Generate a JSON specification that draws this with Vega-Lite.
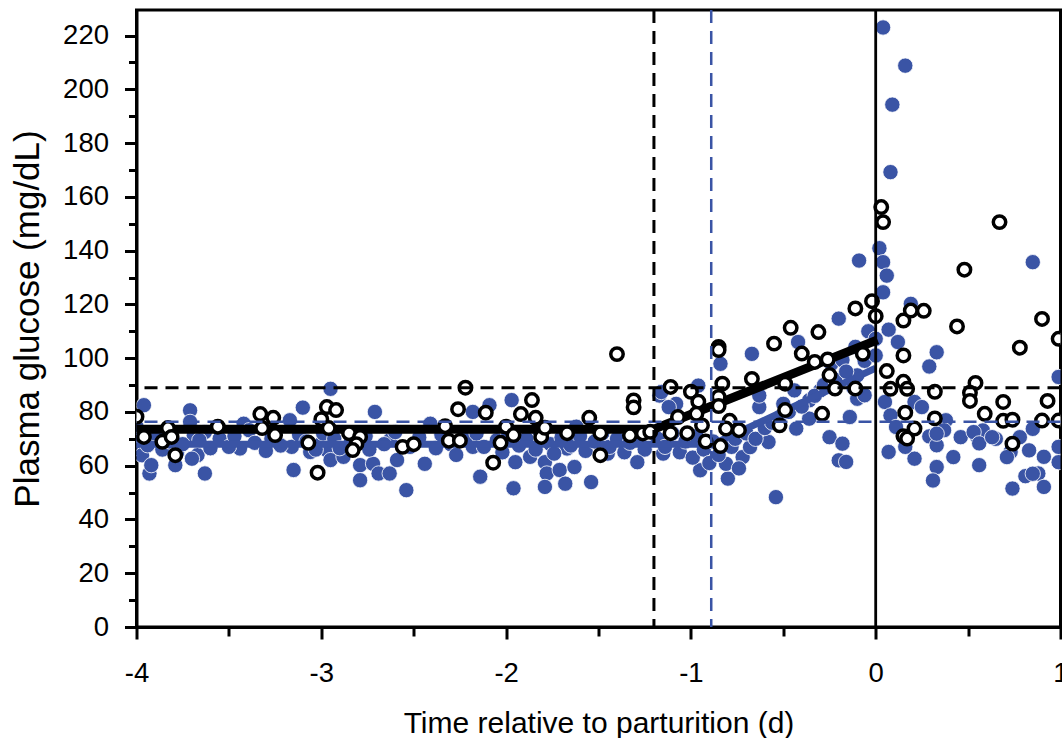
{
"$schema": "https://vega.github.io/schema/vega-lite/v6.json",
"width": 924, "height": 617,
"autosize": {"type": "none"},
"padding": {"left": 136.5, "top": 10, "right": 1.5, "bottom": 111},
"background": "white",
"config": {
 "view": {"stroke": "black", "strokeWidth": 3},
 "font": "Liberation Sans",
 "axis": {"domainColor": "black", "domainWidth": 3, "tickColor": "black", "tickWidth": 3, "labelColor": "black", "titleColor": "black", "labelFont": "Liberation Sans", "titleFont": "Liberation Sans", "labelFontSize": 27.5, "titleFontSize": 30, "titleFontWeight": "normal", "grid": false}
},
"datasets": {
 "blue": [
  {"t":-3.96,"g":82.5},{"t":-4.0,"g":74.5},{"t":-3.99,"g":66.4},{"t":-3.97,"g":63.9},{"t":-3.93,"g":57.1},{"t":-3.92,"g":60.2},{"t":-3.94,"g":67.6},{"t":-3.79,"g":60.2},{"t":-3.78,"g":65.1},{"t":-3.71,"g":80.6},{"t":-3.71,"g":76.3},{"t":-3.69,"g":71.3},{"t":-3.67,"g":63.9},{"t":-3.70,"g":62.6},{"t":-3.63,"g":57.1},{"t":-3.63,"g":72.5},{"t":-3.44,"g":66.4},{"t":-3.42,"g":75.6},{"t":-3.39,"g":73.2},{"t":-3.17,"g":76.9},{"t":-3.16,"g":67.0},{"t":-3.15,"g":58.4},{"t":-3.10,"g":81.6},{"t":-3.06,"g":65.1},{"t":-3.00,"g":68.2},{"t":-2.95,"g":88.6},{"t":-2.97,"g":65.8},{"t":-2.95,"g":62.1},{"t":-2.88,"g":63.3},{"t":-2.79,"g":60.2},{"t":-2.79,"g":54.6},{"t":-2.71,"g":80.0},{"t":-2.72,"g":60.7},{"t":-2.69,"g":57.1},{"t":-2.63,"g":57.1},{"t":-2.63,"g":69.4},{"t":-2.59,"g":62.1},{"t":-2.54,"g":50.9},{"t":-2.44,"g":60.7},{"t":-2.41,"g":75.6},{"t":-2.18,"g":80.0},{"t":-2.14,"g":55.9},{"t":-2.09,"g":82.5},{"t":-2.18,"g":67.0},{"t":-1.97,"g":84.4},{"t":-1.96,"g":51.6},{"t":-1.95,"g":61.3},{"t":-1.87,"g":63.3},{"t":-1.79,"g":61.3},{"t":-1.78,"g":57.1},{"t":-1.79,"g":52.1},{"t":-1.71,"g":58.4},{"t":-1.68,"g":53.3},{"t":-1.63,"g":59.5},{"t":-1.54,"g":53.9},{"t":-1.45,"g":64.5},{"t":-1.67,"g":66.4},{"t":-1.91,"g":71.4},{"t":-1.62,"g":74.5},
  {"t":-3.97,"g":70.5},{"t":-3.90,"g":72},{"t":-3.86,"g":66},{"t":-3.82,"g":69},{"t":-3.75,"g":68},{"t":-3.66,"g":69.5},{"t":-3.60,"g":66.5},{"t":-3.55,"g":70},{"t":-3.50,"g":67},{"t":-3.47,"g":71},{"t":-3.36,"g":68.5},{"t":-3.30,"g":65.5},{"t":-3.27,"g":70},{"t":-3.22,"g":67.5},{"t":-3.12,"g":71.5},{"t":-3.08,"g":69},{"t":-3.03,"g":66},{"t":-2.99,"g":72},{"t":-2.93,"g":70},{"t":-2.90,"g":66.5},{"t":-2.84,"g":69},{"t":-2.76,"g":71},{"t":-2.74,"g":66},{"t":-2.66,"g":68},{"t":-2.60,"g":72.5},{"t":-2.52,"g":67},{"t":-2.47,"g":70.5},{"t":-2.38,"g":66.5},{"t":-2.35,"g":71.5},{"t":-2.30,"g":68},{"t":-2.27,"g":64},{"t":-2.22,"g":70},{"t":-2.16,"g":72},{"t":-2.12,"g":67},{"t":-2.05,"g":69.5},{"t":-2.02,"g":65},{"t":-1.99,"g":72.5},{"t":-1.93,"g":67.5},{"t":-1.89,"g":70},{"t":-1.84,"g":66},{"t":-1.82,"g":73},{"t":-1.76,"g":68},{"t":-1.74,"g":64.5},{"t":-1.70,"g":70.5},{"t":-1.65,"g":67.5},{"t":-1.60,"g":71},{"t":-1.57,"g":65.5},{"t":-1.52,"g":69},{"t":-1.48,"g":72},{"t":-1.44,"g":67},{"t":-1.40,"g":70},{"t":-1.36,"g":65},{"t":-1.33,"g":68.5},{"t":-1.28,"g":71},{"t":-1.25,"g":66},
  {"t":-1.29,"g":61.3},{"t":-1.17,"g":86.1},{"t":-1.08,"g":83.0},{"t":-0.96,"g":89.8},{"t":-1.12,"g":81.8},{"t":-1.15,"g":64.5},{"t":-0.95,"g":58.3},{"t":-0.80,"g":55.2},{"t":-0.81,"g":60.7},{"t":-0.72,"g":63.2},{"t":-0.68,"g":66.9},{"t":-0.58,"g":68.8},{"t":-0.63,"g":81.8},{"t":-0.44,"g":88.0},{"t":-0.43,"g":73.8},{"t":-0.36,"g":77.5},{"t":-0.25,"g":70.6},{"t":-0.18,"g":68.2},{"t":-0.20,"g":62.0},{"t":-0.16,"g":61.4},{"t":-0.54,"g":48.3},{"t":-0.14,"g":78.1},{"t":-0.10,"g":84.9},{"t":-0.30,"g":88.0},{"t":-0.24,"g":97.9},{"t":-0.36,"g":84.3},{"t":-0.63,"g":86.1},{"t":-0.50,"g":83.0},{"t":-0.67,"g":101.6},{"t":-0.84,"g":97.9},{"t":-0.42,"g":106},{"t":-0.20,"g":114.7},{"t":-0.11,"g":104.2},{"t":-0.18,"g":99.3},{"t":-0.10,"g":93.6},{"t":-1.16,"g":87.4},{"t":-0.09,"g":136.3},{"t":-0.06,"g":86.2},
  {"t":-1.18,"g":70},{"t":-1.14,"g":67},{"t":-1.10,"g":72},{"t":-1.06,"g":65},{"t":-1.03,"g":69},{"t":-0.99,"g":63},{"t":-0.97,"g":71},{"t":-0.93,"g":66},{"t":-0.90,"g":61},{"t":-0.88,"g":69},{"t":-0.85,"g":64},{"t":-0.78,"g":67},{"t":-0.76,"g":70},{"t":-0.74,"g":59},{"t":-0.70,"g":72},{"t":-0.65,"g":70},{"t":-0.60,"g":74},{"t":-0.56,"g":76},{"t":-0.52,"g":78},{"t":-0.47,"g":80},{"t":-0.40,"g":82},{"t":-0.33,"g":86},{"t":-0.28,"g":90},{"t":-0.22,"g":92},{"t":-0.16,"g":95},{"t":-0.12,"g":89},{"t":-0.06,"g":99},{"t":-0.04,"g":110},
  {"t":0.04,"g":223},{"t":0.16,"g":208.8},{"t":0.09,"g":194.3},{"t":0.08,"g":169.2},{"t":0.02,"g":140.9},{"t":0.04,"g":135.7},{"t":0.06,"g":130.7},{"t":0.04,"g":124.5},{"t":0.85,"g":135.7},{"t":0.19,"g":120.2},{"t":0.07,"g":110.6},{"t":0.12,"g":106},{"t":0.00,"g":107.2},{"t":0.33,"g":102.2},{"t":0.29,"g":96.9},{"t":0.00,"g":101},{"t":0.05,"g":83.7},{"t":0.08,"g":78.7},{"t":0.11,"g":74.4},{"t":0.21,"g":83.7},{"t":0.25,"g":81.8},{"t":0.29,"g":70.9},{"t":0.33,"g":67.6},{"t":0.38,"g":76.9},{"t":0.37,"g":73.2},{"t":0.46,"g":70.6},{"t":0.42,"g":63.2},{"t":0.33,"g":59.5},{"t":0.31,"g":54.5},{"t":0.21,"g":62.6},{"t":0.07,"g":65.1},{"t":0.16,"g":67},{"t":0.55,"g":70.6},{"t":0.58,"g":73.1},{"t":0.56,"g":60.2},{"t":0.65,"g":70},{"t":0.73,"g":65.1},{"t":0.78,"g":70.6},{"t":0.83,"g":65.7},{"t":0.85,"g":73.7},{"t":0.74,"g":51.5},{"t":0.81,"g":56.1},{"t":0.88,"g":57.1},{"t":0.91,"g":63.3},{"t":0.91,"g":52.1},{"t":0.99,"g":93},{"t":0.99,"g":61.3},{"t":0.99,"g":67},{"t":0.33,"g":71.9},{"t":0.53,"g":72.5},{"t":0.56,"g":68.3},{"t":0.63,"g":70.6},{"t":0.71,"g":63.2},{"t":0.85,"g":57},{"t":0.17,"g":70.6}
 ],
 "open": [
  {"t":-4.00,"g":78.2},{"t":-3.96,"g":70.7},{"t":-3.86,"g":68.9},{"t":-3.83,"g":74.0},{"t":-3.81,"g":70.7},{"t":-3.79,"g":63.9},{"t":-3.56,"g":74.5},{"t":-3.33,"g":79.2},{"t":-3.32,"g":74.0},{"t":-3.26,"g":77.8},{"t":-3.25,"g":71.4},{"t":-3.07,"g":68.5},{"t":-3.02,"g":57.4},{"t":-3.00,"g":77.3},{"t":-2.97,"g":81.8},{"t":-2.92,"g":80.7},{"t":-2.96,"g":74.0},{"t":-2.85,"g":72.1},{"t":-2.79,"g":70.7},{"t":-2.81,"g":68.0},{"t":-2.83,"g":65.8},{"t":-2.56,"g":67.0},{"t":-2.50,"g":68.0},{"t":-2.33,"g":74.7},{"t":-2.31,"g":69.3},{"t":-2.25,"g":69.3},{"t":-2.26,"g":81.0},{"t":-2.22,"g":89.0},{"t":-2.11,"g":79.7},{"t":-2.03,"g":68.5},{"t":-2.07,"g":61.1},{"t":-2.00,"g":74.5},{"t":-1.96,"g":71.4},{"t":-1.92,"g":79.2},{"t":-1.86,"g":84.4},{"t":-1.84,"g":77.8},{"t":-1.81,"g":70.7},{"t":-1.79,"g":74.1},{"t":-1.67,"g":72.1},{"t":-1.55,"g":77.8},{"t":-1.49,"g":72.1},{"t":-1.49,"g":63.9},{"t":-1.40,"g":101.5},{"t":-1.31,"g":84.3},{"t":-1.31,"g":81.7},{"t":-1.33,"g":71.3},{"t":-1.26,"g":72.0},{"t":-1.22,"g":72.6},
  {"t":-1.11,"g":89.3},{"t":-1.11,"g":72.1},{"t":-1.07,"g":78.1},{"t":-1.02,"g":72.1},{"t":-1.00,"g":87.5},{"t":-0.96,"g":83.8},{"t":-0.97,"g":79.3},{"t":-0.94,"g":75.0},{"t":-0.92,"g":69.0},{"t":-0.85,"g":104.2},{"t":-0.85,"g":103.0},{"t":-0.83,"g":90.5},{"t":-0.85,"g":85.6},{"t":-0.85,"g":82.2},{"t":-0.84,"g":67.3},{"t":-0.79,"g":76.7},{"t":-0.81,"g":73.8},{"t":-0.74,"g":73.2},{"t":-0.67,"g":92.3},{"t":-0.55,"g":105.4},{"t":-0.52,"g":75.0},{"t":-0.49,"g":80.7},{"t":-0.49,"g":90.5},{"t":-0.46,"g":111.3},{"t":-0.40,"g":101.7},{"t":-0.31,"g":109.7},{"t":-0.33,"g":98.6},{"t":-0.26,"g":99.5},{"t":-0.29,"g":79.3},{"t":-0.25,"g":93.7},{"t":-0.22,"g":88.7},{"t":-0.11,"g":88.7},{"t":-0.11,"g":118.5},
  {"t":0.03,"g":156.2},{"t":0.04,"g":150.6},{"t":-0.02,"g":121.2},{"t":0.00,"g":115.6},{"t":-0.07,"g":101.6},{"t":0.06,"g":95.2},{"t":0.08,"g":88.6},{"t":0.15,"g":101.0},{"t":0.15,"g":114.0},{"t":0.19,"g":117.7},{"t":0.26,"g":117.6},{"t":0.15,"g":91.2},{"t":0.17,"g":88.6},{"t":0.16,"g":79.7},{"t":0.21,"g":73.8},{"t":0.15,"g":71.0},{"t":0.17,"g":70.1},{"t":0.32,"g":87.5},{"t":0.32,"g":77.6},{"t":0.44,"g":111.8},{"t":0.48,"g":132.9},{"t":0.54,"g":90.8},{"t":0.51,"g":87.1},{"t":0.51,"g":84.1},{"t":0.59,"g":79.3},{"t":0.67,"g":150.6},{"t":0.69,"g":83.7},{"t":0.69,"g":76.7},{"t":0.74,"g":77.1},{"t":0.74,"g":68.2},{"t":0.78,"g":103.9},{"t":0.90,"g":114.6},{"t":0.93,"g":84.1},{"t":0.90,"g":76.8},{"t":0.99,"g":107.2},{"t":0.99,"g":76.8}
 ],
 "fitBlue": [{"t":-4,"g":68},{"t":-0.88,"g":68},{"t":0,"g":96.3}],
 "fitBlack": [{"t":-4,"g":73.6},{"t":-1.2,"g":73.6},{"t":0.01,"g":106.8}],
 "vBlackDash": [{"t":-1.2}],
 "vBlueDash": [{"t":-0.89}],
 "vSolid": [{"t":0}],
 "hBlackDash": [{"g":89}],
 "hBlueDash": [{"g":76.3}]
},
"layer": [
 {"data": {"name": "blue"},
  "mark": {"type": "circle", "color": "#3A54A5", "opacity": 1, "size": 235, "stroke": "white", "strokeWidth": 0.8, "clip": true},
  "encoding": {
   "x": {"field": "t", "type": "quantitative", "scale": {"domain": [-4, 1], "nice": false, "zero": false},
    "axis": {"orient": "bottom", "values": [-4, -3, -2, -1, 0, 1], "tickSize": 12, "labelPadding": 20, "labelFlush": false, "labelOverlap": false, "labelExpr": "datum.value < 0 ? '-' + (-datum.value) : '' + datum.value", "title": "Time relative to parturition (d)", "titleX": 462, "titleY": 105, "titleBaseline": "alphabetic"}},
   "y": {"field": "g", "type": "quantitative", "scale": {"domain": [0, 229.5], "nice": false, "zero": false},
    "axis": {"orient": "left", "values": [0, 20, 40, 60, 80, 100, 120, 140, 160, 180, 200, 220], "tickSize": 12, "labelPadding": 16, "labelOverlap": false, "labelFlush": false, "title": "Plasma glucose (mg/dL)", "titleFontSize": 35, "titleX": -98, "titleY": 308.5, "titleBaseline": "alphabetic"}}
  }},
 {"data": {"name": "fitBlue"},
  "mark": {"type": "line", "color": "#3A54A5", "strokeWidth": 7, "strokeJoin": "round"},
  "encoding": {
   "x": {"field": "t", "type": "quantitative", "axis": {"orient": "bottom", "values": [-3.5, -2.5, -1.5, -0.5, 0.5], "tickSize": 9, "labels": false, "domain": false, "title": null}},
   "y": {"field": "g", "type": "quantitative", "axis": {"orient": "left", "values": [10, 30, 50, 70, 90, 110, 130, 150, 170, 190, 210], "tickSize": 8, "labels": false, "domain": false, "title": null}}
  }},
 {"data": {"name": "fitBlack"},
  "mark": {"type": "line", "color": "black", "strokeWidth": 9, "strokeJoin": "round"},
  "encoding": {
   "x": {"field": "t", "type": "quantitative", "axis": null},
   "y": {"field": "g", "type": "quantitative", "axis": null}
  }},
 {"data": {"name": "open"},
  "mark": {"type": "point", "shape": "circle", "filled": false, "fill": "white", "fillOpacity": 1, "stroke": "black", "strokeWidth": 3.5, "size": 155, "opacity": 1, "clip": true},
  "encoding": {
   "x": {"field": "t", "type": "quantitative", "axis": null},
   "y": {"field": "g", "type": "quantitative", "axis": null}
  }},
 {"data": {"name": "hBlueDash"},
  "mark": {"type": "rule", "color": "#3A54A5", "strokeWidth": 2.5, "strokeDash": [13, 8]},
  "encoding": {"y": {"field": "g", "type": "quantitative", "axis": null}}},
 {"data": {"name": "hBlackDash"},
  "mark": {"type": "rule", "color": "black", "strokeWidth": 2.8, "strokeDash": [13, 8]},
  "encoding": {"y": {"field": "g", "type": "quantitative", "axis": null}}},
 {"data": {"name": "vBlueDash"},
  "mark": {"type": "rule", "color": "#3A54A5", "strokeWidth": 2.5, "strokeDash": [13, 8]},
  "encoding": {"x": {"field": "t", "type": "quantitative", "axis": null}}},
 {"data": {"name": "vBlackDash"},
  "mark": {"type": "rule", "color": "black", "strokeWidth": 3, "strokeDash": [13, 8]},
  "encoding": {"x": {"field": "t", "type": "quantitative", "axis": null}}},
 {"data": {"name": "vSolid"},
  "mark": {"type": "rule", "color": "black", "strokeWidth": 2.8},
  "encoding": {"x": {"field": "t", "type": "quantitative", "axis": null}}}
],
"resolve": {"axis": {"x": "independent", "y": "independent"}}
}
